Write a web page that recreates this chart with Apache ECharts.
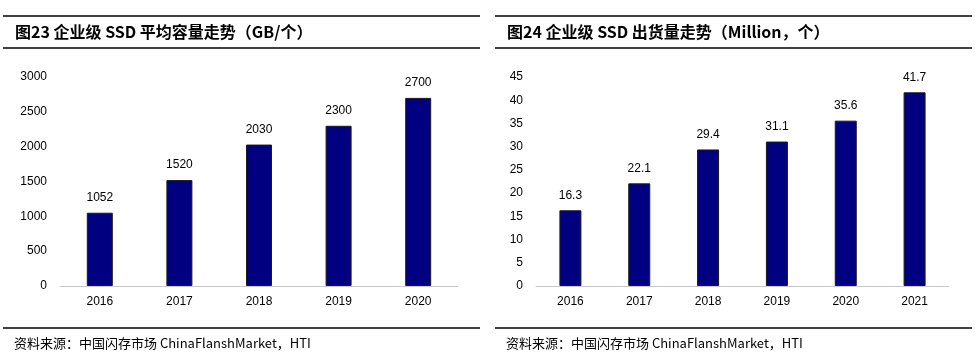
<!DOCTYPE html>
<html><head><meta charset="utf-8">
<script src="https://cdn.jsdelivr.net/npm/echarts@6/dist/echarts.min.js"></script>
<style>html,body{margin:0;padding:0;background:#fff}#c{width:979px;height:361px}</style>
</head><body><div id="c"></div>
<script>
const yearsA = ['2016','2017','2018','2019','2020'];
const capacityGB = [1052, 1520, 2030, 2300, 2700];
const yearsB = ['2016','2017','2018','2019','2020','2021'];
const shipmentsM = [16.3, 22.1, 29.4, 31.1, 35.6, 41.7];
const titleA = '图23 企业级 SSD 平均容量走势（GB/个）';
const titleB = '图24 企业级 SSD 出货量走势（Million，个）';
const sourceText = '资料来源：中国闪存市场 ChinaFlanshMarket，HTI';

const chart = echarts.init(document.getElementById('c'), null, {renderer:'canvas'});
const fontCJK = '"Noto Sans CJK SC", "Noto Sans", sans-serif';
const fontNum = '"Liberation Sans", Arial, sans-serif';
function hline(x1,x2,y,w){return {type:'line',shape:{x1:x1,y1:y,x2:x2,y2:y},style:{stroke:'#000',lineWidth:w||1.3}};}
const barStyle = {color:'#000080', borderColor:'#1a1a1a', borderWidth:1};
const plain = v => String(v);
chart.setOption({
  animation:false,
  graphic:[
    hline(3,480,16), hline(3,480,48), hline(3,480,328),
    hline(495,972,16), hline(495,972,48), hline(495,972,328),
    {type:'text',x:15,y:32,style:{text:titleA,font:'bold 16px '+fontCJK,fill:'#000',textVerticalAlign:'middle'}},
    {type:'text',x:507,y:32,style:{text:titleB,font:'bold 16px '+fontCJK,fill:'#000',textVerticalAlign:'middle'}},
    {type:'text',x:14,y:343,style:{text:sourceText,font:'13px '+fontCJK,fill:'#000',textVerticalAlign:'middle'}},
    {type:'text',x:506,y:343,style:{text:sourceText,font:'13px '+fontCJK,fill:'#000',textVerticalAlign:'middle'}}
  ],
  grid:[
    {left:60, width:398, top:77, height:209},
    {left:536, width:413, top:77, height:209}
  ],
  xAxis:[
    {type:'category',gridIndex:0,data:yearsA,axisTick:{show:false},
     axisLine:{lineStyle:{color:'#c8c8c8',width:1}},
     axisLabel:{color:'#000',fontFamily:fontNum,fontSize:12,margin:10}},
    {type:'category',gridIndex:1,data:yearsB,axisTick:{show:false},
     axisLine:{lineStyle:{color:'#c8c8c8',width:1}},
     axisLabel:{color:'#000',fontFamily:fontNum,fontSize:12,margin:10}}
  ],
  yAxis:[
    {type:'value',gridIndex:0,min:0,max:3000,interval:500,splitLine:{show:false},
     axisLine:{show:false},axisTick:{show:false},
     axisLabel:{color:'#000',fontFamily:fontNum,fontSize:12,margin:13,formatter:plain}},
    {type:'value',gridIndex:1,min:0,max:45,interval:5,splitLine:{show:false},
     axisLine:{show:false},axisTick:{show:false},
     axisLabel:{color:'#000',fontFamily:fontNum,fontSize:12,margin:13,formatter:plain}}
  ],
  series:[
    {type:'bar',xAxisIndex:0,yAxisIndex:0,data:capacityGB,barWidth:26,itemStyle:barStyle,
     label:{show:true,position:'top',distance:9,color:'#000',fontFamily:fontNum,fontSize:12}},
    {type:'bar',xAxisIndex:1,yAxisIndex:1,data:shipmentsM,barWidth:22,itemStyle:barStyle,
     label:{show:true,position:'top',distance:9,color:'#000',fontFamily:fontNum,fontSize:12}}
  ]
});
</script></body></html>
